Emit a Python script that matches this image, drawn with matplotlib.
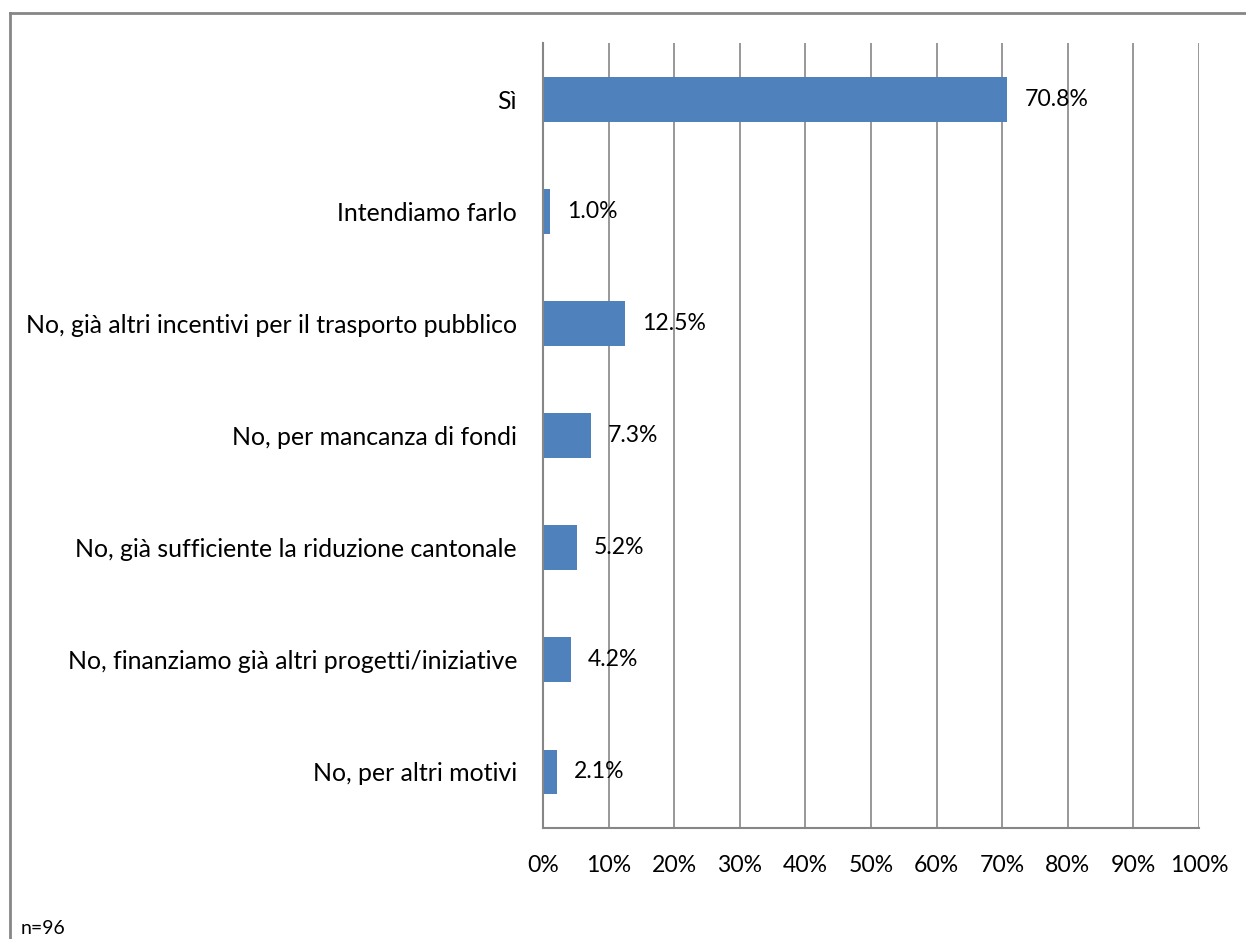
import matplotlib
matplotlib.use("Agg")
import matplotlib.pyplot as plt
from matplotlib.lines import Line2D

categories = [
    "Sì",
    "Intendiamo farlo",
    "No, già altri incentivi per il trasporto pubblico",
    "No, per mancanza di fondi",
    "No, già sufficiente la riduzione cantonale",
    "No, finanziamo già altri progetti/iniziative",
    "No, per altri motivi",
]
values = [70.8, 1.0, 12.5, 7.3, 5.2, 4.2, 2.1]
ticks = [0, 10, 20, 30, 40, 50, 60, 70, 80, 90, 100]
note = "n=96"

W, H = 1246, 939
plt.rcParams["font.family"] = ["Lato", "DejaVu Sans"]
fig = plt.figure(figsize=(W / 100, H / 100), dpi=100)

# axes box in pixel terms
left, right, top, bottom = 543, 1199, 43, 828
ax = fig.add_axes([left / W, 1 - bottom / H, (right - left) / W, (bottom - top) / H])

grey = "#868686"
label_size = 17.9
num_size = 16.6

ypos = list(range(len(categories)))
ax.barh(ypos, values, height=0.4, color="#4F81BD", zorder=3)
for y, v in zip(ypos, values):
    ax.text(v + 2.6, y, f"{v:.1f}%", va="center", ha="left", fontsize=num_size, zorder=4)

ax.set_xlim(0, 100)
ax.set_ylim(len(categories) - 0.5, -0.5)
ax.set_xticks(ticks)
ax.set_xticklabels([f"{t}%" for t in ticks], fontsize=num_size)
ax.set_yticks(ypos)
ax.set_yticklabels(categories, fontsize=label_size)
ax.tick_params(axis="both", length=0)
ax.tick_params(axis="y", pad=18.7)
ax.tick_params(axis="x", pad=19.3)
ax.xaxis.grid(True, color=grey, linewidth=1.2, zorder=0)
for s in ["top", "right"]:
    ax.spines[s].set_visible(False)
for s in ["left", "bottom"]:
    ax.spines[s].set_color(grey)
    ax.spines[s].set_linewidth(1.5)
    ax.spines[s].set_zorder(5)

# outer chart border (runs off right and bottom edges)
fig.add_artist(Line2D([10 / W, 10 / W], [1 - 13 / H, 0], color=grey, linewidth=2))
fig.add_artist(Line2D([10 / W, 1], [1 - 13 / H, 1 - 13 / H], color=grey, linewidth=2))

fig.text(21 / W, 1 - 928 / H, note, fontsize=14, va="center", ha="left")

fig.savefig("out.png", dpi=100)
